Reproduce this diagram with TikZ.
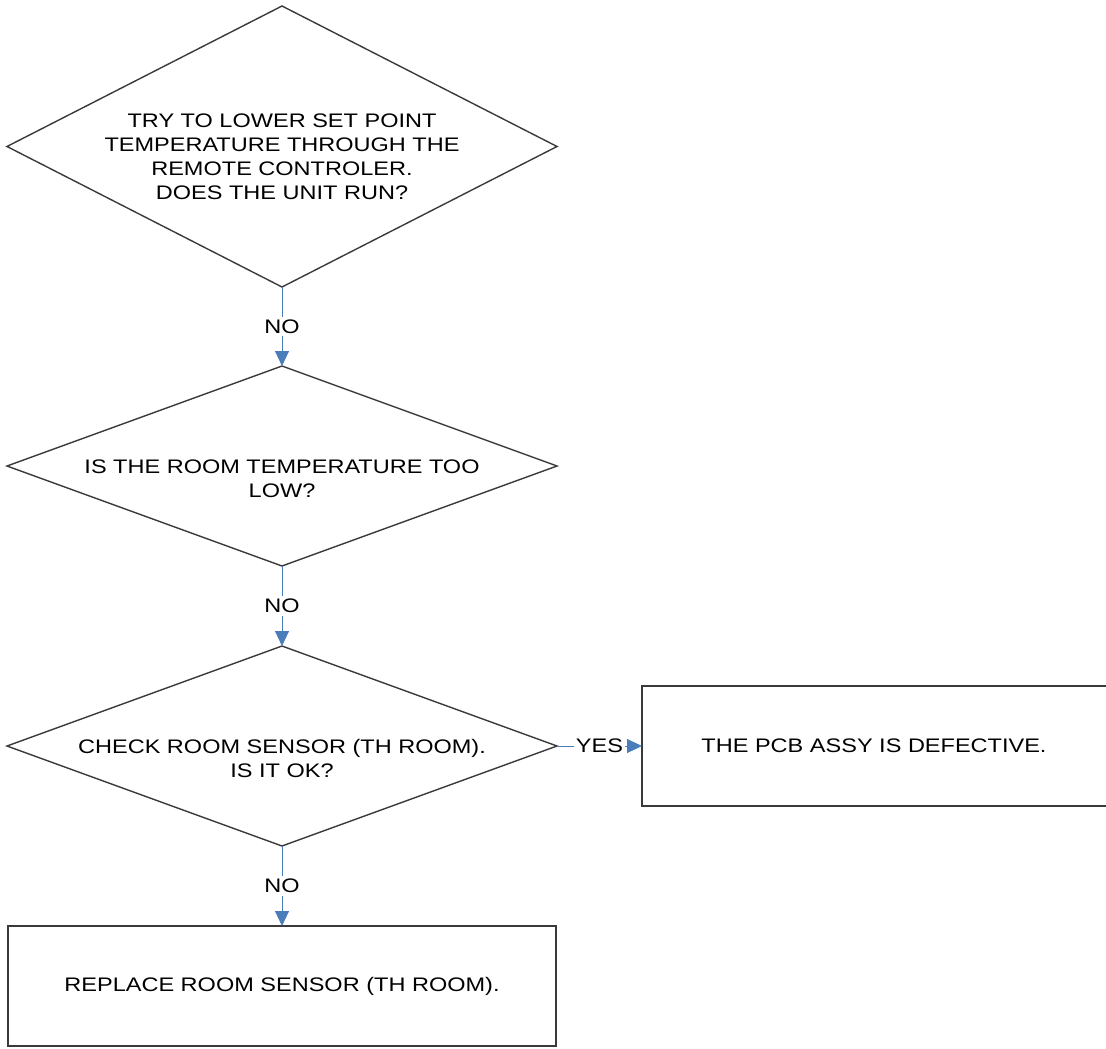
\documentclass[tikz,border=0pt]{standalone}
\usepackage{fontspec}
\setmainfont{Liberation Sans}[FakeStretch=1.2]
\usepackage{xcolor}
\usetikzlibrary{arrows.meta,positioning,shapes.geometric}
\definecolor{ink}{HTML}{3A3A3A}
\definecolor{flowline}{HTML}{4A7EBB}
\tikzset{
  every picture/.style={line width=0.7pt, font=\fontsize{9.8}{12}\selectfont},
  decision/.style={diamond, draw=ink, inner sep=0pt, outer sep=0pt, minimum width=275pt},
  action/.style={rectangle, draw=ink, inner sep=0pt, outer sep=0pt, minimum height=60pt},
  words/.style={align=center, text=black},
  flow/.style={-{Triangle[length=7.5pt, width=7pt]}, draw=flowline, line width=0.45pt},
  answer/.style={fill=white, inner sep=1.5pt, text=black},
}
\begin{document}
\begin{tikzpicture}
\useasboundingbox (0pt,0pt) rectangle (553pt,-524pt);
\node[decision, minimum height=140.5pt] (lower) at (141pt,-73.25pt) {};
\node[decision, minimum height=100pt, below=39.5pt of lower] (roomtemp) {};
\node[decision, minimum height=100pt, below=40pt of roomtemp] (sensor) {};
\node[action, minimum width=274pt, below=40pt of sensor] (replace) {};
\node[action, minimum width=234pt, right=42.5pt of sensor] (pcb) {};
% texts sit a little below the middle of the diamonds
\node[words, yshift=-5pt] (lowertext) at (lower) {TRY TO LOWER SET POINT\\TEMPERATURE THROUGH THE\\REMOTE CONTROLER.\\DOES THE UNIT RUN?};
\node[words, yshift=-6.5pt] (roomtemptext) at (roomtemp) {IS THE ROOM TEMPERATURE TOO\\LOW?};
\node[words, yshift=-6pt] (sensortext) at (sensor) {CHECK ROOM SENSOR (TH ROOM).\\IS IT OK?};
\node[words, xshift=-1pt] (pcbtext) at (pcb) {THE PCB ASSY IS DEFECTIVE.};
\node[words] (replacetext) at (replace) {REPLACE ROOM SENSOR (TH ROOM).};
\draw[flow] (lower) -- node[answer] {NO} (roomtemp);
\draw[flow] (roomtemp) -- node[answer] {NO} (sensor);
\draw[flow] (sensor) -- node[answer] {NO} (replace);
\draw[flow] (sensor) -- node[answer, inner xsep=1pt] {YES} (pcb);
\end{tikzpicture}
\end{document}
